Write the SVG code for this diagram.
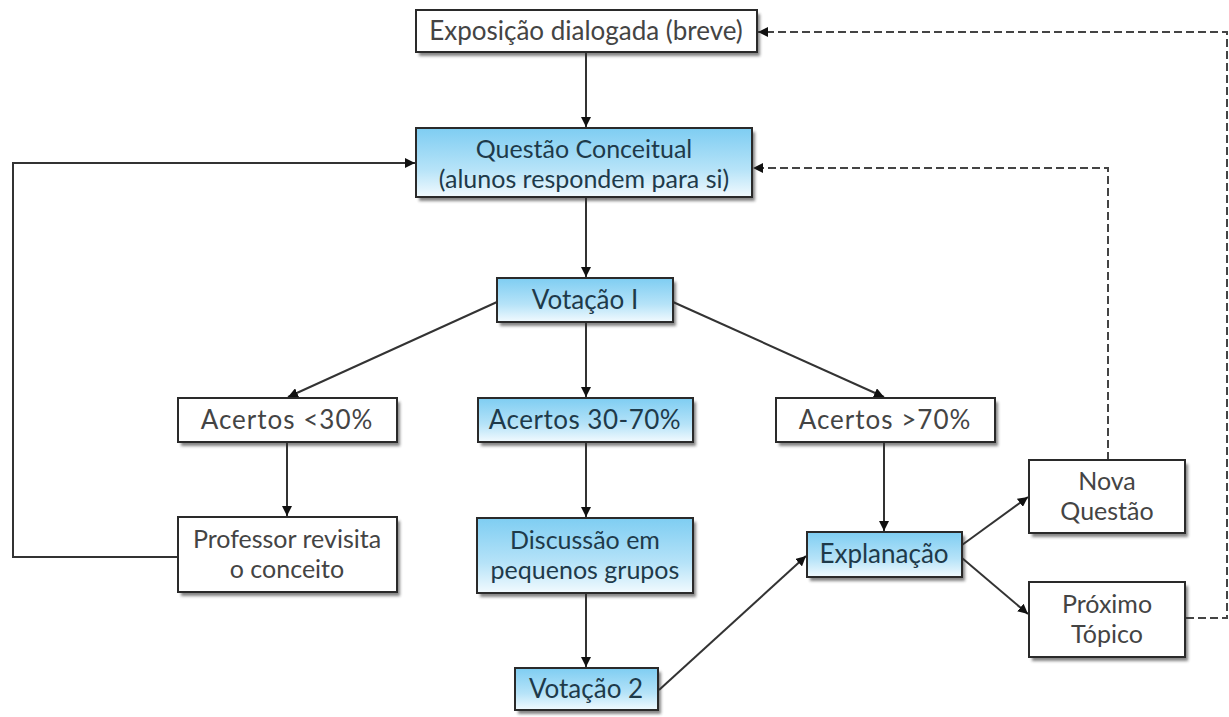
<svg xmlns="http://www.w3.org/2000/svg" width="1229" height="717" viewBox="0 0 1229 717">
<style>
.box{stroke:#2a2a2a;stroke-width:2}
.w{fill:#ffffff}
.b{fill:url(#blue)}
.sh{fill:#333;opacity:0.6;filter:url(#blur)}
.t{font-family:Lato,"Open Sans",sans-serif;font-size:26px;text-anchor:middle}
.t2{font-size:25px}
.tw{fill:#444}
.tb{fill:#1e3a4a}
.c{fill:none;stroke:#333;stroke-width:2}
.d{fill:none;stroke:#444;stroke-width:2;stroke-dasharray:8 4}
</style>
<defs>
<linearGradient id="blue" x1="0" y1="0" x2="0" y2="1">
<stop offset="0" stop-color="#7ecdf2"/>
<stop offset="0.6" stop-color="#b6e3f8"/>
<stop offset="1" stop-color="#f2fafe"/>
</linearGradient>
<filter id="blur" x="-10%" y="-20%" width="120%" height="150%"><feGaussianBlur stdDeviation="1.5"/></filter>
<marker id="a" viewBox="0 0 10 10" refX="10" refY="5" markerWidth="10" markerHeight="10" markerUnits="userSpaceOnUse" orient="auto"><path d="M0,0 L10,5 L0,10 z" fill="#111"/></marker>
</defs>

<g id="connectors">
<path class="c" d="M586,53 V127" marker-end="url(#a)"/>
<path class="c" d="M586,197 V277" marker-end="url(#a)"/>
<path class="c" d="M497,302 L288,397" marker-end="url(#a)"/>
<path class="c" d="M586,323 V397" marker-end="url(#a)"/>
<path class="c" d="M673,302 L884,397" marker-end="url(#a)"/>
<path class="c" d="M287,443 V516" marker-end="url(#a)"/>
<path class="c" d="M586,443 V517" marker-end="url(#a)"/>
<path class="c" d="M586,594 V667" marker-end="url(#a)"/>
<path class="c" d="M659,690 L806,556" marker-end="url(#a)"/>
<path class="c" d="M884,443 V531" marker-end="url(#a)"/>
<path class="c" d="M962,545 L1028,497" marker-end="url(#a)"/>
<path class="c" d="M962,558 L1028,614" marker-end="url(#a)"/>
<path class="c" d="M178,557 H13 V163 H415" marker-end="url(#a)"/>
<path class="d" d="M1186,618 H1227 V32 H758" marker-end="url(#a)"/>
<path class="d" d="M1108,460 V168 H753" marker-end="url(#a)"/>
</g>

<g id="n1">
<rect class="sh" x="419" y="14" width="341" height="42"/>
<rect class="box w" x="416" y="10" width="341" height="42"/>
<text class="t tw" x="586" y="40">Exposição dialogada (breve)</text>
</g>
<g id="n2">
<rect class="sh" x="419" y="132" width="336" height="69"/>
<rect class="box b" x="416" y="128" width="336" height="69"/>
<text class="t t2 tb" x="584" y="158">Questão Conceitual</text>
<text class="t t2 tb" x="584" y="188">(alunos respondem para si)</text>
</g>
<g id="n3">
<rect class="sh" x="500" y="282" width="176" height="44"/>
<rect class="box b" x="497" y="278" width="176" height="44"/>
<text class="t tb" x="585" y="309">Votação I</text>
</g>
<g id="n4">
<rect class="sh" x="181" y="402" width="219" height="44"/>
<rect class="box w" x="178" y="398" width="219" height="44"/>
<text class="t tw" x="287" y="429" letter-spacing="1">Acertos &lt;30%</text>
</g>
<g id="n5">
<rect class="sh" x="481" y="402" width="215" height="44"/>
<rect class="box b" x="478" y="398" width="215" height="44"/>
<text class="t tb" x="585" y="429" letter-spacing="0.5">Acertos 30-70%</text>
</g>
<g id="n6">
<rect class="sh" x="779" y="402" width="219" height="44"/>
<rect class="box w" x="776" y="398" width="219" height="44"/>
<text class="t tw" x="885" y="429" letter-spacing="1">Acertos &gt;70%</text>
</g>
<g id="n7">
<rect class="sh" x="181" y="521" width="219" height="75"/>
<rect class="box w" x="178" y="517" width="219" height="75"/>
<text class="t t2 tw" x="287" y="548">Professor revisita</text>
<text class="t t2 tw" x="287" y="578">o conceito</text>
</g>
<g id="n8">
<rect class="sh" x="480" y="522" width="216" height="75"/>
<rect class="box b" x="477" y="518" width="216" height="75"/>
<text class="t t2 tb" x="585" y="549">Discussão em</text>
<text class="t t2 tb" x="585" y="579">pequenos grupos</text>
</g>
<g id="n9">
<rect class="sh" x="518" y="672" width="143" height="42"/>
<rect class="box b" x="515" y="668" width="143" height="42"/>
<text class="t tb" x="586" y="698">Votação 2</text>
</g>
<g id="n10">
<rect class="sh" x="810" y="536" width="155" height="45"/>
<rect class="box b" x="807" y="532" width="155" height="45"/>
<text class="t tb" x="884" y="563">Explanação</text>
</g>
<g id="n11">
<rect class="sh" x="1032" y="464" width="156" height="73"/>
<rect class="box w" x="1029" y="460" width="156" height="73"/>
<text class="t t2 tw" x="1107" y="490">Nova</text>
<text class="t t2 tw" x="1107" y="520">Questão</text>
</g>
<g id="n12">
<rect class="sh" x="1032" y="586" width="156" height="75"/>
<rect class="box w" x="1029" y="582" width="156" height="75"/>
<text class="t t2 tw" x="1107" y="613">Próximo</text>
<text class="t t2 tw" x="1107" y="643">Tópico</text>
</g>
</svg>
